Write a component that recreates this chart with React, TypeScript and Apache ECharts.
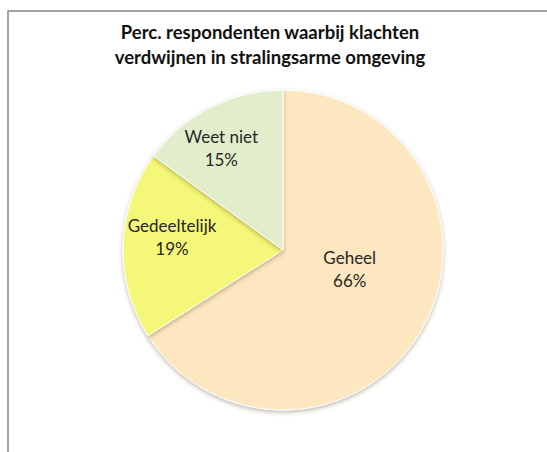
import React, { useEffect, useRef } from "react";
import * as echarts from "echarts";

const categories = ["Geheel", "Gedeeltelijk", "Weet niet"];
const values = [66, 19, 15];
const colors = ["#FDE7C0", "#F4F777", "#E2EDCB"];
const labelOffsets = [[-6, -21], [-28, -10], [-24, -28]];
const titleText = "Perc. respondenten waarbij klachten\nverdwijnen in stralingsarme omgeving";

export default function App() {
  const ref = useRef<HTMLDivElement>(null);
  useEffect(() => {
    if (!ref.current) return;
    const chart = echarts.init(ref.current, null, { renderer: "svg" });
    chart.setOption({
      animation: false,
      backgroundColor: "#ffffff",
      title: {
        text: titleText,
        left: 265,
        top: 14,
        textAlign: "center",
        textStyle: {
          fontFamily: "Lato",
          fontWeight: "bold",
          fontSize: 18.5,
          lineHeight: 25,
          color: "#111111",
        },
      },
      graphic: [
        {
          type: "rect",
          shape: { x: 8, y: 11, width: 700, height: 600 },
          style: { fill: "none", stroke: "#858585", lineWidth: 1.5 },
          silent: true,
        },
      ],
      series: [
        {
          type: "pie",
          center: [283, 250],
          radius: 160,
          startAngle: 90,
          clockwise: true,
          label: {
            show: true,
            position: "inside",
            formatter: "{b}\n{c}%",
            fontFamily: "Lato",
            fontSize: 17,
            lineHeight: 23,
            color: "#262626",
          },
          labelLine: { show: false },
          itemStyle: {
            borderColor: "#ffffff",
            borderWidth: 1,
            shadowBlur: 4,
            shadowColor: "rgba(80,60,20,0.35)",
            shadowOffsetY: 2,
          },
          emphasis: { disabled: true },
          data: categories.map((name, i) => ({
            name,
            value: values[i],
            itemStyle: { color: colors[i] },
            label: { offset: labelOffsets[i] },
          })),
        },
      ],
    });
    return () => chart.dispose();
  }, []);
  return (
    <div
      ref={ref}
      style={{ position: "absolute", left: 0, top: 0, width: 547, height: 452 }}
    />
  );
}
